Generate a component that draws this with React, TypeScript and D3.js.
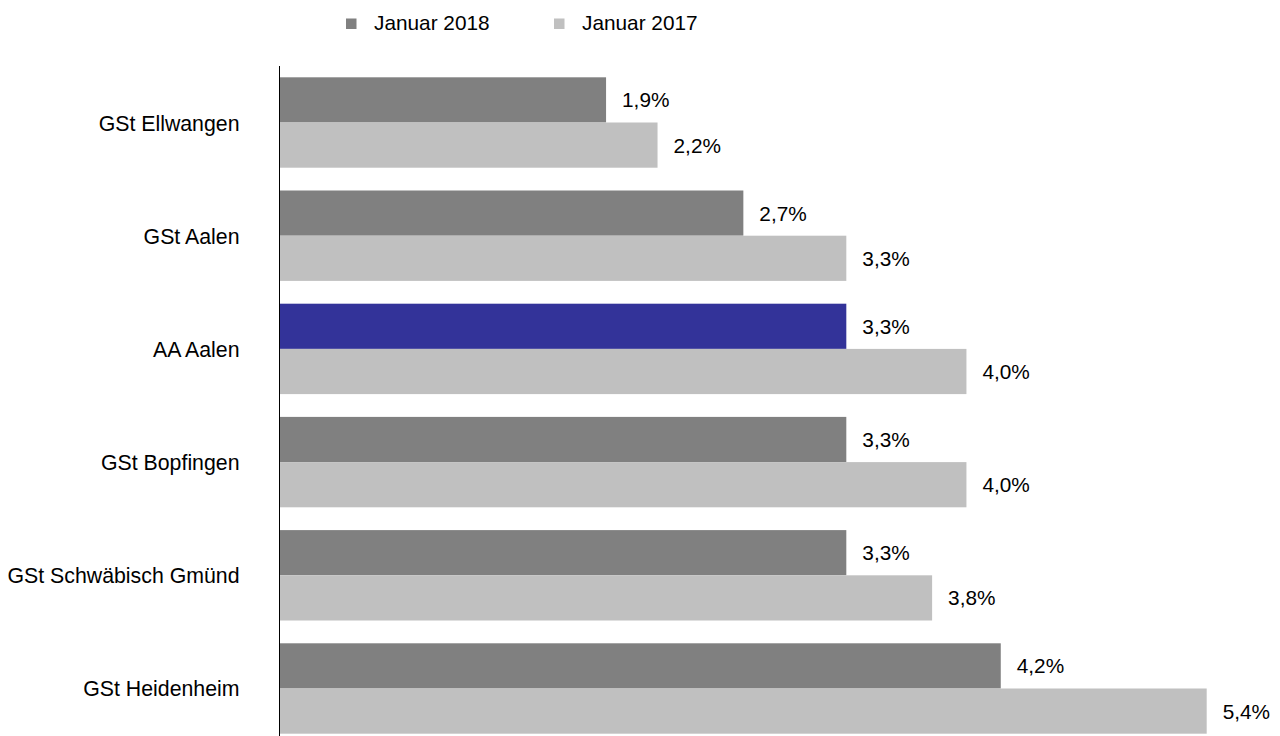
import React from "react";
import * as d3 from "d3";

const categories = [
  "GSt Ellwangen",
  "GSt Aalen",
  "AA Aalen",
  "GSt Bopfingen",
  "GSt Schwäbisch Gmünd",
  "GSt Heidenheim",
];
const seriesNames = ["Januar 2018", "Januar 2017"];
const values2018 = [1.9, 2.7, 3.3, 3.3, 3.3, 4.2];
const values2017 = [2.2, 3.3, 4.0, 4.0, 3.8, 5.4];
const highlightCategory = "AA Aalen";

const W = 1280;
const H = 736;
const FONT = "'Liberation Sans', Arial, Helvetica, sans-serif";
const COLORS = ["#808080", "#c0c0c0"];
const HIGHLIGHT = "#333399";

export default function App() {
  const x = d3.scaleLinear().domain([0, 5.4]).range([280, 1206.7]);
  const y = d3
    .scaleBand<string>()
    .domain(categories)
    .range([77.3, 733.7])
    .paddingInner(0.2014)
    .paddingOuter(0);
  const inner = d3
    .scaleBand<string>()
    .domain(seriesNames)
    .range([0, y.bandwidth()]);
  const seriesValues = [values2018, values2017];
  const fmt = (v: number) => v.toFixed(1).replace(".", ",") + "%";

  return (
    <svg
      width={W}
      height={H}
      style={{ position: "absolute", left: 0, top: 0, background: "#fff" }}
      fontFamily={FONT}
    >
      {/* legend */}
      {seriesNames.map((s, i) => {
        const lx = 346 + i * 208;
        return (
          <g key={s}>
            <rect x={lx} y={18.5} width={10.5} height={10.5} fill={COLORS[i]} />
            <text x={lx + 28} y={29.5} fontSize={20.8} fill="#000">
              {s}
            </text>
          </g>
        );
      })}

      {categories.map((c, ci) => {
        const gy = y(c)!;
        return (
          <g key={c}>
            <text
              x={239.5}
              y={gy + y.bandwidth() / 2 + 8}
              fontSize={21.3}
              textAnchor="end"
              fill="#000"
            >
              {c}
            </text>
            {seriesNames.map((s, si) => {
              const v = seriesValues[si][ci];
              const by = gy + inner(s)!;
              const fill =
                si === 0 && c === highlightCategory ? HIGHLIGHT : COLORS[si];
              return (
                <g key={s}>
                  <rect
                    x={x(0)}
                    y={by}
                    width={x(v) - x(0)}
                    height={inner.bandwidth()}
                    fill={fill}
                  />
                  <text
                    x={x(v) + 16}
                    y={by + inner.bandwidth() / 2 + 7.5}
                    fontSize={20.8}
                    fill="#000"
                  >
                    {fmt(v)}
                  </text>
                </g>
              );
            })}
          </g>
        );
      })}

      <line x1={279.5} x2={279.5} y1={66} y2={H} stroke="#000" strokeWidth={1} />
    </svg>
  );
}
